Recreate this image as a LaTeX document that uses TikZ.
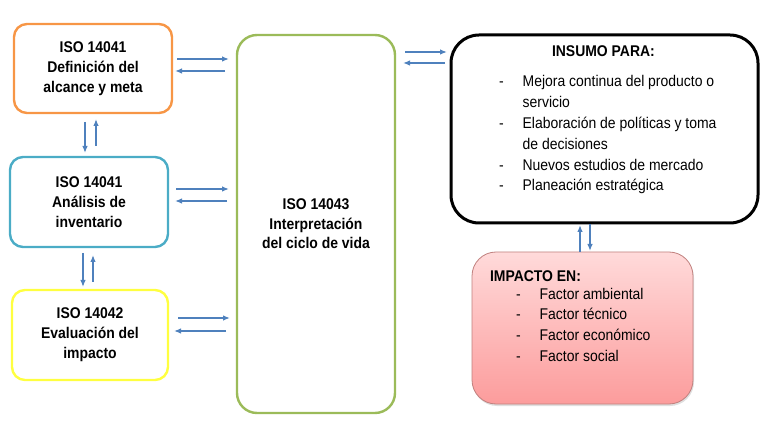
\documentclass[tikz,border=0pt]{standalone}
\usepackage{fontspec}
\setmainfont{Liberation Sans}[FakeStretch=0.9]
\usetikzlibrary{arrows.meta,shadows}
\definecolor{borange}{HTML}{F79646}
\definecolor{bblue}{HTML}{4BACC6}
\definecolor{byellow}{HTML}{FFFF40}
\definecolor{bgreen}{HTML}{9BBB59}
\definecolor{arrblue}{HTML}{4F81BD}
\definecolor{redtop}{RGB}{255,218,218}
\definecolor{redbot}{RGB}{252,156,156}
\definecolor{redline}{RGB}{192,128,126}
\tikzset{
  box/.style={draw, rounded corners=13pt, line width=2.4pt, inner sep=0pt, outer sep=0pt, align=center,
    font=\fontsize{15.5}{20}\selectfont\bfseries},
  bigbox/.style={draw, line width=3pt, rounded corners=28pt, inner sep=0pt, outer sep=0pt},
  redbox/.style={draw=redline, line width=0.8pt, rounded corners=24pt, inner sep=0pt, outer sep=0pt,
    top color=redtop, bottom color=redbot,
    drop shadow={opacity=0.25, shadow xshift=1pt, shadow yshift=-2pt}},
  txt/.style={inner sep=0pt, outer sep=0pt, font=\fontsize{15.5}{20.8}\selectfont},
  arr/.style={draw=arrblue, line width=1.3pt, -{Latex[length=7pt,width=5.5pt]}},
}
\begin{document}
\begin{tikzpicture}[x=1pt,y=-1pt]
\useasboundingbox (0,0) rectangle (768,430);
% boxes
\node[box, draw=borange, minimum width=158pt, minimum height=89pt] (o) at (93,68.5)
  {ISO 14041\\Definición del\\alcance y meta};
\node[box, draw=bblue, minimum width=158pt, minimum height=90pt] (b) at (89,202)
  {ISO 14041\\Análisis de\\inventario};
\node[box, draw=byellow, minimum width=156pt, minimum height=90pt] (yb) at (90,335)
  {ISO 14042\\Evaluación del\\impacto};
\node[box, draw=bgreen, rounded corners=20pt, minimum width=158pt, minimum height=378pt,
  font=\fontsize{15.5}{19.5}\selectfont\bfseries] (g) at (316,224)
  {ISO 14043\\Interpretación\\del ciclo de vida};
\node[bigbox, minimum width=307pt, minimum height=188pt] (k) at (604.5,129) {};
\node[redbox, minimum width=221pt, minimum height=152pt] (r) at (582.5,328) {};
% texts in the right boxes
\node[txt, font=\fontsize{15.5}{20.8}\selectfont\bfseries, anchor=base west] (kt) at (552,57) {INSUMO PARA:};
\node[txt, anchor=base west] (kl) at (499,87)
  {\begin{tabular}[t]{@{}l@{\hspace{19pt}}l@{}}
   - & Mejora continua del producto o\\
     & servicio\\
   - & Elaboración de políticas y toma\\
     & de decisiones\\
   - & Nuevos estudios de mercado\\
   - & Planeación estratégica
   \end{tabular}};
\node[txt, font=\fontsize{15.5}{20.8}\selectfont\bfseries, anchor=base west] (rt) at (490,281) {IMPACTO EN:};
\node[txt, anchor=base west] (rl) at (516,299)
  {\begin{tabular}[t]{@{}l@{\hspace{19pt}}l@{}}
   - & Factor ambiental\\
   - & Factor técnico\\
   - & Factor económico\\
   - & Factor social
   \end{tabular}};
% connectors left column <-> green
\draw[arr, shorten <=5pt, shorten >=8pt] ([yshift=9.5pt]o.east) -- ([yshift=9.5pt]o.east -| g.west);
\draw[arr, shorten <=12pt, shorten >=3pt] ([yshift=-2.5pt]o.east -| g.west) -- ([yshift=-2.5pt]o.east);
\draw[arr, shorten <=8pt, shorten >=8pt] ([yshift=13pt]b.east) -- ([yshift=13pt]b.east -| g.west);
\draw[arr, shorten <=10pt, shorten >=7pt] ([yshift=1pt]b.east -| g.west) -- ([yshift=1pt]b.east);
\draw[arr, shorten <=10pt, shorten >=7pt] ([yshift=17pt]yb.east) -- ([yshift=17pt]yb.east -| g.west);
\draw[arr, shorten <=11pt, shorten >=6pt] ([yshift=4pt]yb.east -| g.west) -- ([yshift=4pt]yb.east);
% vertical connectors
\draw[arr, shorten <=9pt, shorten >=4pt] ([xshift=-8pt]o.south) -- ([xshift=-8pt]o.south |- b.north);
\draw[arr, shorten <=11pt, shorten >=6pt] ([xshift=3pt]o.south |- b.north) -- ([xshift=3pt]o.south);
\draw[arr, shorten <=6pt, shorten >=3pt] ([xshift=-6pt]b.south) -- ([xshift=-6pt]b.south |- yb.north);
\draw[arr, shorten <=8pt, shorten >=8pt] ([xshift=4pt]b.south |- yb.north) -- ([xshift=4pt]b.south);
% green <-> black
\draw[arr, shorten <=10pt, shorten >=4pt] ([yshift=172pt]g.east) -- ([yshift=172pt]g.east -| k.west);
\draw[arr, shorten <=6pt, shorten >=8pt] ([yshift=161pt]g.east -| k.west) -- ([yshift=161pt]g.east);
% black <-> red
\draw[arr, shorten <=0pt, shorten >=2pt] ([xshift=-2.5pt]r.north) -- ([xshift=-2.5pt]r.north |- k.south);
\draw[arr, shorten <=1pt, shorten >=1pt] ([xshift=7.5pt]r.north |- k.south) -- ([xshift=7.5pt]r.north);
\end{tikzpicture}
\end{document}
